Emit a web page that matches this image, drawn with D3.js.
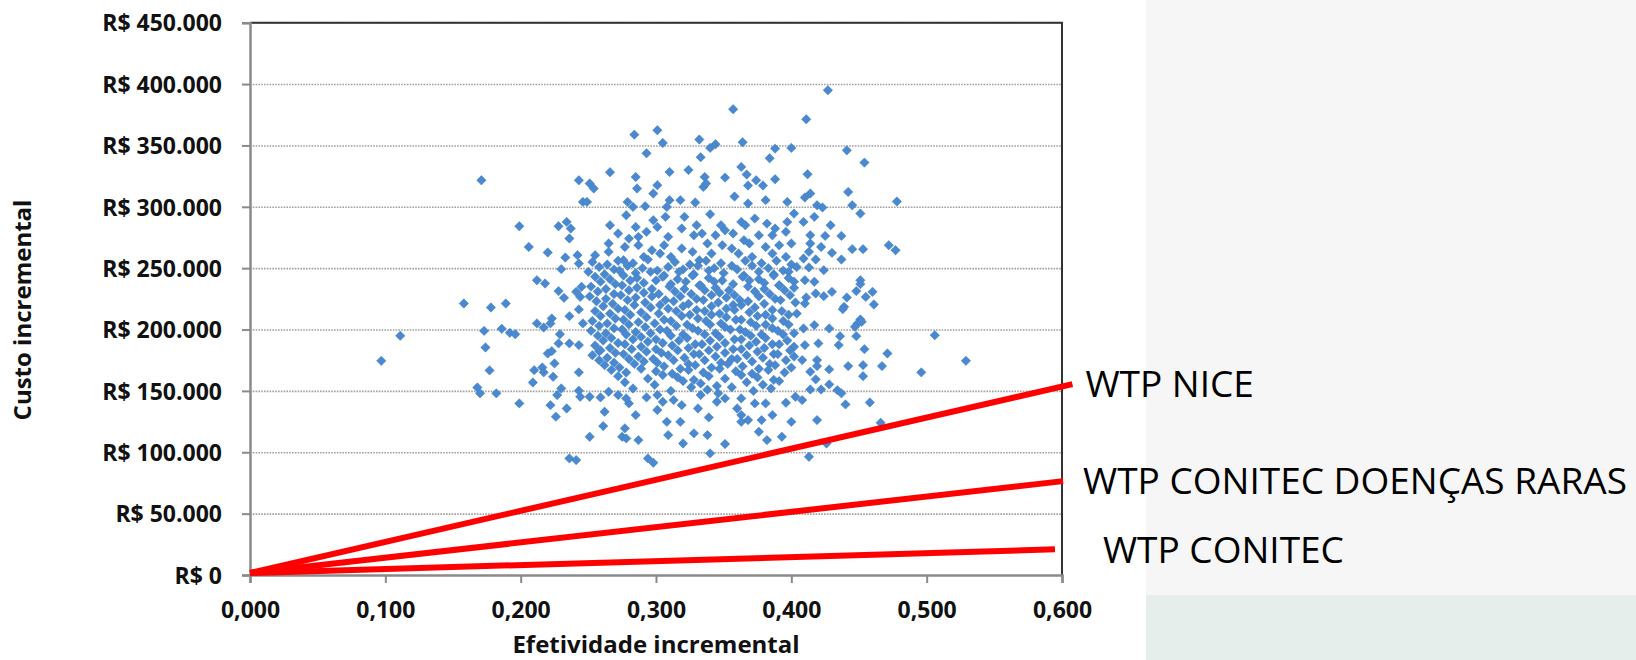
<!DOCTYPE html>
<html>
<head>
<meta charset="utf-8">
<script src="https://d3js.org/d3.v7.min.js"></script>
<style>
body {margin: 0; background: white;}
.tick text {font-family: "Open Sans", sans-serif; font-weight: bold; font-size: 23px; fill: #111;}
</style>
</head>
<body>
<svg id="chart" width="1636" height="660"></svg>
<script>
// axis ticks
var xTicks = [0, 0.1, 0.2, 0.3, 0.4, 0.5, 0.6];
var yTicks = [0, 50000, 100000, 150000, 200000, 250000, 300000, 350000, 400000, 450000];

// willingness-to-pay threshold lines (end point of each line)
var wtpNames = ["WTP NICE", "WTP CONITEC DOENÇAS RARAS", "WTP CONITEC"];
var wtpEndX = [0.6077, 0.6008, 0.5948];
var wtpEndY = [155500, 76500, 20900];

// simulated ICER points: [incremental effect x1000, incremental cost in R$ thousands]
var icerPoints = [
[171,321.6],[243,321.6],[246,304],
[357,379.5],[284,358.8],[301,362.4],[305,352],[332,354.8],[364,352.6],[293,343.6],[340,348],[344,351],[333,340.4],[388,347.4],[400,348],[384,339.6],[266,328.2],[310,328.4],[324,330],[363,332.5],[367,326.3],[351,323.8],[285,324.3],[286,314.9],[336,324.3],[335,316.2],[337,319],[301,317.6],[298,310.8],[251,319],[254,314.9],[368,317.3],[374,321.6],[379,317.3],[388,322.5],[358,308.4],[279,304],[283,299.9],[292,300.5],[310,305.4],[318,305.4],[329,303.5],[368,302.7],[381,305.4],[397,304],[249,304],[308,299.9],
[427,395],[411,371.3],[441,346],[454,336],[412,326.5],[414,310.8],[410,307.6],[442,312.1],[478,304.3],[419,301.3],[423,299.4],[445,301.3],
[199,284.2],[228,284.2],[234,287.7],[237,282.3],[236,274.2],[206,267.3],[220,262.8],[233,258.7],[242,260.6],[243,253.8],[230,249.2],[212,240.2],[218,237.5],[228,231.3],[232,225.8],[241,230.7],[245,234.8],[244,226.6],[243,216.4],[236,210.9],[158,221.2],[178,218],[189,221.2],[223,209],[212,205],[217,201.7],[222,205],[173,198.9],[186,200.6],[192,197.3],[196,196.2],[111,194.9],[229,196.2],[246,205],
[278,293.1],[307,291.8],[321,291.8],[340,293.9],[363,287.7],[373,290.4],[397,287.7],[402,294.5],[266,285],[285,283.6],[298,289.1],[301,283.6],[319,282.3],[330,285],[348,285],[351,280.9],[366,285],[382,286.3],[388,282.3],[272,278.2],[280,274.1],[287,275.5],[293,279.6],[309,275.5],[328,276.8],[334,278.2],[344,276.8],[357,278.2],[365,272.8],[376,276.8],[386,276.8],[396,279.6],[265,270.1],[277,267.3],[287,268.7],[297,264.6],[306,268.7],[319,266],[327,263.3],[338,270.1],[349,268.7],[356,266],[369,270.1],[381,267.3],[391,268.7],[400,270.1],[255,260.6],[265,263.3],[276,256.5],[291,259.2],[303,261.9],[311,259.2],[332,256.5],[341,261.9],[361,261.9],[371,259.2],[386,261.9],[396,259.2],
[451,294.5],[417,291.8],[429,285],[409,287.7],[414,276.9],[425,276.3],[437,276.3],[414,270.1],[422,267.3],[445,265.5],[453,265.5],[472,268.7],[477,264.6],[413,263.3],[430,262.5],[437,257.1],[409,257.9],[418,257.1],[413,250.6],[424,248.4],[410,240.2],[417,238.9],[451,240.2],[451,237],[448,231.3],[460,230.7],[455,226.6],[441,226.1],[461,220.4],[439,218.5],[438,216.6],[430,230.7],[424,227.2],[418,229.4],[411,226.1],[410,221.2],[451,208.2],[449,205],[452,206.3],[447,202.2],[417,203.6],[409,200.9],[428,200.9],[436,194.6],[448,194.6],[506,195.4],
[97,174.5],[174,185.4],[177,166.7],[168,152.8],[170,148],[182,148],[199,139.8],[209,156.9],[210,166.9],[216,169.1],[217,165.1],[224,161.5],[225,172.4],[220,180.5],[223,182.4],[228,188.7],[236,188.7],[243,187.3],[243,165.1],[230,152],[227,146.6],[243,150.1],[244,145.2],[222,138.4],[234,135.7],[226,129],[236,95],[241,93.6],
[258,182.4],[251,145.2],[259,144.7],[265,149.3],[262,133],[261,121.3],[251,112.6],[277,119.5],[275,112.6],[278,111.3],[287,109.9],[294,95],[298,91.5],[285,130.3],[280,139.8],[278,143.9],[293,144.7],[301,134.4],[308,124.8],[318,124.8],[309,114],[320,107.2],[328,115.4],[339,128.4],[338,114],[351,106.7],[340,99.1],[331,135.7],[319,138.4],[305,141.1],[345,141.1],[360,135.7],[363,130.3],[368,126.2],[363,124.8],[378,126.2],[376,116.7],[382,109.9],[393,112.6],[400,124.8],[386,130.3],[373,139.8],[381,139.8],[396,140.3],[403,145.2],[351,143.9],[363,143.9],[346,148],[333,146.6],[313,142.5],[301,146.6],[272,146.6],
[410,187.3],[420,188.7],[435,187.3],[454,184],[471,180.5],[529,174.5],[408,175.1],[419,175.1],[419,170.2],[428,167.5],[442,170.2],[453,171],[467,170.2],[453,162],[496,165.1],[414,165.6],[418,159.4],[428,155.3],[414,151.2],[422,151.2],[434,150.6],[437,148],[408,142.5],[440,139],[458,140.6],[419,126.2],[466,124],[426,107.2],[413,96.3],
[253,255],[264,253],[272,256],[283,254],[294,257],[314,255],[325,253],[337,256],[348,254],[356,252],[366,256],[378,254],[389,256],[400,253],
[258,251],[269,249],[279,252],[290,250],[301,248],[309,251],[320,249],[331,252],[343,250],[360,249],[371,252],[383,250],[394,248],[404,251],
[250,247],[262,245],[273,248],[285,246],[296,247],[306,244],[317,247],[328,245],[339,248],[350,246],[365,244],[376,247],[387,245],[398,247],
[255,243],[266,241],[276,244],[286,242],[305,243],[316,241],[327,244],[339,242],[349,240],[364,243],[376,241],[387,244],[398,242],
[259,239],[270,237],[281,240],[291,238],[300,240],[311,237],[322,239],[332,236],[343,239],[357,237],[369,240],[380,238],[391,236],[402,239],
[252,235],[263,233],[275,236],[286,234],[297,233],[310,235],[321,233],[333,236],[344,234],[354,232],[368,235],[380,233],[391,236],[402,234],
[257,231],[269,229],[280,232],[291,230],[302,229],[314,231],[326,229],[336,232],[347,230],[358,228],[373,231],[384,229],[395,232],
[251,227],[263,225],[274,228],[285,226],[297,227],[307,224],[318,227],[330,225],[341,228],[352,226],[362,224],[376,227],[388,225],[399,228],
[256,223],[268,221],[279,224],[292,222],[303,220],[313,223],[324,221],[335,224],[346,222],[357,220],[368,223],[380,221],[392,224],[403,222],
[261,219],[272,217],[284,220],[296,218],[309,217],[320,219],[330,216],[341,219],[352,217],[363,220],[373,218],[386,216],
[255,215],[266,213],[277,216],[289,214],[302,213],[315,215],[325,212],[336,215],[347,213],[358,216],[369,214],[381,212],[393,215],[404,213],
[259,211],[270,209],[281,212],[293,210],[306,208],[319,211],[331,209],[341,212],[352,210],[363,208],[375,211],[386,209],[398,212],
[253,207],[264,205],[276,208],[287,206],[299,205],[311,207],[323,204],[337,207],[348,205],[359,208],[370,206],[381,204],[394,207],
[258,203],[269,201],[280,204],[292,202],[303,200],[315,203],[327,201],[340,204],[351,202],[362,200],[374,203],[386,201],[398,204],
[252,199],[263,197],[275,200],[285,198],[296,197],[308,199],[320,196],[331,199],[344,197],[355,200],[366,198],[378,196],[390,199],[402,197],
[257,195],[267,193],[278,196],[289,194],[300,192],[311,195],[323,193],[336,196],[347,194],[358,192],[370,195],[381,193],[394,196],
[261,191],[272,189],[283,192],[294,190],[305,189],[317,191],[329,188],[340,191],[351,189],[363,192],[374,190],[386,188],[397,191],
[255,187],[266,185],[277,188],[289,186],[300,184],[312,187],[324,185],[334,188],[345,186],[357,184],[369,187],[380,185],[391,188],[402,186],
[259,183],[270,181],[282,184],[293,182],[304,181],[316,183],[328,180],[339,183],[351,181],[363,184],[375,182],[387,180],[399,183],
[253,179],[264,177],[276,180],[287,178],[298,176],[309,179],[321,177],[332,180],[344,178],[356,176],[367,179],[379,177],[390,180],[402,178],
[258,175],[269,173],[280,176],[291,174],[301,173],[313,175],[324,172],[336,175],[348,173],[360,176],[371,174],[384,172],[396,175],
[262,171],[273,169],[284,172],[306,170],[318,168],[329,171],[341,169],[353,172],[364,170],[376,168],[388,171],[400,169],
[267,167],[278,165],[289,168],[300,166],[312,164],[324,167],[335,165],[347,168],[359,166],[371,164],[383,167],[395,165],
[272,162],[294,160],[305,163],[316,161],[328,159],[339,162],[351,160],[363,163],[375,161],[387,159],
[277,157],[299,155],[320,158],[333,156],[345,154],[367,157],[379,155],[391,158],
[283,152],[311,150],[326,153],[338,151],[356,153],[372,150],[385,152]
];

var svg = d3.select("#chart");

// slide background behind the pasted chart
svg.append("rect").attr("x",1146).attr("y",0).attr("width",490).attr("height",660).style("fill","#f6f6f6");
svg.append("rect").attr("x",1146).attr("y",595).attr("width",490).attr("height",65).style("fill","#e6eeeb");

var plotLeft = 250, plotRight = 1062, plotTop = 22.7, plotBottom = 575;
var x = d3.scaleLinear().domain([0,0.6]).range([plotLeft,plotRight]);
var y = d3.scaleLinear().domain([0,450000]).range([plotBottom,plotTop]);

var fmtY = function(v) {return "R$ " + d3.format(",")(v).replace(/,/g,".");};
var fmtX = function(v) {return d3.format(".3f")(v).replace(".",",");};

//gridlines
svg.append("g")
.attr("transform","translate("+plotLeft+",0)")
.call(d3.axisLeft(y).tickValues(yTicks.slice(1)).tickSize(-(plotRight-plotLeft)).tickFormat(""))
.call(function(g) {g.select(".domain").remove();})
.selectAll("line").style("stroke","#a0a0a0").style("stroke-width",1.6).style("stroke-dasharray","1.6,1.2");

//frame top and right
svg.append("path")
.attr("d","M"+plotLeft+","+plotTop+"H"+plotRight+"V"+plotBottom)
.style("fill","none").style("stroke","#333").style("stroke-width",2);

//y axis
var yAxis = svg.append("g")
.attr("transform","translate("+plotLeft+",0)")
.call(d3.axisLeft(y).tickValues(yTicks).tickFormat(fmtY).tickSize(8).tickPadding(20));
yAxis.select(".domain").style("stroke","#8a8a8a").style("stroke-width",2.5);
yAxis.selectAll(".tick line").style("stroke","#8a8a8a").style("stroke-width",2);
yAxis.selectAll(".tick text").attr("dy","0.36em");

//x axis
var xAxis = svg.append("g")
.attr("transform","translate(0,"+plotBottom+")")
.call(d3.axisBottom(x).tickValues(xTicks).tickFormat(fmtX).tickSize(8).tickPadding(19));
xAxis.select(".domain").style("stroke","#8a8a8a").style("stroke-width",2.5);
xAxis.selectAll(".tick line").style("stroke","#8a8a8a").style("stroke-width",2);

//points as diamonds
svg.append("g")
.selectAll("path")
.data(icerPoints)
.enter()
.append("path")
.attr("transform",function(d) {return "translate("+x(d[0]/1000)+","+y(d[1]*1000)+")";})
.attr("d","M0,-4.7L4.7,0L0,4.7L-4.7,0Z")
.style("fill","#4a89cf")
.style("stroke","#3f7cc0")
.style("stroke-width",0.5);

//WTP lines
var labelDx = [13, 20, 48], labelDy = [13, 13, 14];
wtpNames.forEach(function(name,i) {
  svg.append("line")
  .attr("x1",x(0)).attr("y1",y(0)-2)
  .attr("x2",x(wtpEndX[i])).attr("y2",y(wtpEndY[i]))
  .style("stroke","#ff0000").style("stroke-width",6);
  svg.append("text")
  .attr("x",x(wtpEndX[i])+labelDx[i])
  .attr("y",y(wtpEndY[i])+labelDy[i])
  .style("font-family","'Open Sans', sans-serif")
  .style("font-size","37px")
  .style("fill","#000")
  .text(name);
});

//axis titles
svg.append("text")
.attr("x",(plotLeft+plotRight)/2)
.attr("y",653)
.attr("text-anchor","middle")
.style("font-family","'Open Sans', sans-serif").style("font-weight","bold").style("font-size","24px").style("fill","#111")
.text("Efetividade incremental");

svg.append("text")
.attr("transform","translate(31,310) rotate(-90)")
.attr("text-anchor","middle")
.style("font-family","'Open Sans', sans-serif").style("font-weight","bold").style("font-size","24px").style("fill","#111")
.text("Custo incremental");
</script>
</body>
</html>
